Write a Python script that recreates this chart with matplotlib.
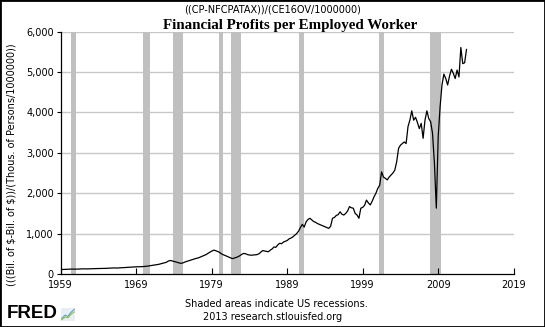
import numpy as np
import matplotlib.pyplot as plt
from matplotlib.patches import Rectangle

# quarterly-ish observations, decimal year -> value
years = [
    1959.0, 1959.5, 1960.0, 1960.5, 1961.0, 1961.5, 1962.0, 1962.5, 1963.0, 1963.5,
    1964.0, 1964.5, 1965.0, 1965.5, 1966.0, 1966.5, 1967.0, 1967.5, 1968.0, 1968.5,
    1969.0, 1969.5, 1970.0, 1970.5, 1971.0, 1971.5, 1972.0, 1972.5, 1973.0, 1973.25,
    1973.5, 1973.75, 1974.0, 1974.25, 1974.5, 1974.75, 1975.0, 1975.25, 1975.5, 1975.75,
    1976.0, 1976.25, 1976.5, 1976.75, 1977.0, 1977.25, 1977.5, 1977.75, 1978.0, 1978.25,
    1978.5, 1978.75, 1979.0, 1979.25, 1979.5, 1979.75, 1980.0, 1980.25, 1980.5, 1980.75,
    1981.0, 1981.25, 1981.5, 1981.75, 1982.0, 1982.25, 1982.5, 1982.75, 1983.0, 1983.25,
    1983.5, 1983.75, 1984.0, 1984.25, 1984.5, 1984.75, 1985.0, 1985.25, 1985.5, 1985.75,
    1986.0, 1986.25, 1986.5, 1986.75, 1987.0, 1987.25, 1987.5, 1987.75, 1988.0, 1988.25,
    1988.5, 1988.75, 1989.0, 1989.25, 1989.5, 1989.75, 1990.0, 1990.25, 1990.5, 1990.75,
    1991.0, 1991.25, 1991.5, 1991.75, 1992.0, 1992.25, 1992.5, 1992.75, 1993.0, 1993.25,
    1993.5, 1993.75, 1994.0, 1994.25, 1994.5, 1994.75, 1995.0, 1995.25, 1995.5, 1995.75,
    1996.0, 1996.25, 1996.5, 1996.75, 1997.0, 1997.25, 1997.5, 1997.75, 1998.0, 1998.25,
    1998.5, 1998.75, 1999.0, 1999.25, 1999.5, 1999.75, 2000.0, 2000.25, 2000.5, 2000.75,
    2001.0, 2001.25, 2001.5, 2001.75, 2002.0, 2002.25, 2002.5, 2002.75, 2003.0, 2003.25,
    2003.5, 2003.75, 2004.0, 2004.25, 2004.5, 2004.75, 2005.0, 2005.25, 2005.5, 2005.75,
    2006.0, 2006.25, 2006.5, 2006.75, 2007.0, 2007.25, 2007.5, 2007.75, 2008.0, 2008.25,
    2008.5, 2008.75, 2009.0, 2009.25, 2009.5, 2009.75, 2010.0, 2010.25, 2010.5, 2010.75,
    2011.0, 2011.25, 2011.5, 2011.75, 2012.0, 2012.25, 2012.5, 2012.75,
]
values = [
    110, 115, 118, 122, 120, 125, 128, 126, 130, 133,
    135, 138, 140, 145, 150, 148, 155, 160, 165, 172,
    178, 180, 185, 195, 210, 225, 240, 265, 290, 320,
    335, 325, 310, 300, 285, 270, 265, 280, 300, 315,
    330, 345, 360, 375, 390, 400, 420, 440, 460, 480,
    510, 540, 565, 590, 580, 560, 540, 505, 480, 460,
    440, 420, 400, 380, 395, 410, 430, 455, 490, 510,
    500, 480, 470, 465, 470, 475, 480, 500, 540, 580,
    570, 560, 550, 590, 620, 670, 660, 720, 760, 750,
    790, 810, 830, 870, 890, 920, 960, 1000, 1060, 1150,
    1230, 1160, 1290, 1350, 1380, 1340, 1300, 1280, 1250, 1230,
    1210, 1190, 1170, 1150, 1130, 1180, 1380, 1400, 1450, 1470,
    1540, 1480, 1460, 1500, 1560, 1670, 1640, 1630, 1500, 1460,
    1380, 1630, 1650, 1700, 1830, 1760, 1710, 1800, 1910, 2000,
    2120, 2200, 2530, 2400, 2370, 2330, 2400, 2450, 2500, 2570,
    2780, 3110, 3190, 3230, 3270, 3230, 3650, 3810, 4040, 3810,
    3880, 3750, 3600, 3730, 3360, 3810, 4040, 3850, 3770, 3480,
    2740, 1630, 3400, 4140, 4680, 4950, 4840, 4680, 4900, 5070,
    4970, 4840, 5050, 4880, 5610, 5210, 5230, 5560,
]

# NBER recessions (start, end) in decimal years
rec_start = [1960.33, 1969.92, 1973.83, 1980.0, 1981.5, 1990.5, 2001.17, 2007.92]
rec_end = [1961.08, 1970.83, 1975.17, 1980.5, 1982.83, 1991.17, 2001.83, 2009.42]

xticks = [1959, 1969, 1979, 1989, 1999, 2009, 2019]
yticks = [0, 1000, 2000, 3000, 4000, 5000, 6000]

W, H = 545, 327
fig = plt.figure(figsize=(W / 100, H / 100), dpi=100)
ax = fig.add_axes([60.7 / W, 1 - 274 / H, 453 / W, 242.3 / H])

for s, e in zip(rec_start, rec_end):
    ax.axvspan(s, e, color="#c0c0c0", lw=0, zorder=1)

for y in yticks[1:]:
    ax.axhline(y, color="#c8c8c8", lw=1.0, zorder=0)

ax.plot(years, values, color="black", lw=0.9, zorder=3)

ax.set_xlim(1959, 2019)
ax.set_ylim(0, 6000)
ax.set_xticks(xticks)
ax.set_yticks(yticks)
ax.set_yticklabels([f"{v:,}" for v in yticks])
ax.tick_params(axis="x", direction="in", length=4, width=0.8, pad=4, labelsize=7)
ax.tick_params(axis="y", direction="out", length=3, width=0.8, pad=2, labelsize=7)
for sp in ["top", "right"]:
    ax.spines[sp].set_visible(False)
for sp in ["left", "bottom"]:
    ax.spines[sp].set_linewidth(0.9)

ax.set_ylabel(r"(((Bil. of \$-Bil. of \$))/(Thous. of Persons/1000000))", fontsize=7.0)
ax.yaxis.set_label_coords(-44 / 453, 0.45)

fig.text(273 / W, 1 - 10 / H, "((CP-NFCPATAX))/(CE16OV/1000000)",
         ha="center", va="center", fontsize=7)
fig.text(290 / W, 1 - 26 / H, "Financial Profits per Employed Worker",
         ha="center", va="center", fontsize=10.8, fontweight="bold",
         family="Liberation Serif")
fig.text(276 / W, 1 - 304 / H, "Shaded areas indicate US recessions.",
         ha="center", va="center", fontsize=7)
fig.text(273 / W, 1 - 317 / H, "2013 research.stlouisfed.org",
         ha="center", va="center", fontsize=7)

# FRED wordmark with a tiny chart icon
fig.text(7 / W, 1 - 314 / H, "FRED", ha="left", va="center",
         fontsize=13.5, fontweight="bold", family="Liberation Sans")
icon = fig.add_axes([61 / W, 1 - 321 / H, 14 / W, 13 / H])
icon.set_xlim(0, 1)
icon.set_ylim(0, 1)
icon.axis("off")
icon.add_patch(Rectangle((0, 0), 1, 1, facecolor="#e8eef4", edgecolor="none"))
icon.plot([0.05, 0.3, 0.5, 0.7, 0.95], [0.2, 0.45, 0.35, 0.65, 0.9], color="#5b9bd5", lw=0.8)
icon.plot([0.05, 0.3, 0.5, 0.7, 0.95], [0.1, 0.3, 0.25, 0.5, 0.7], color="#8cc63f", lw=0.8)

# outer frame
fig.patches.append(Rectangle((0, 0), 1, 1, transform=fig.transFigure,
                             fill=False, edgecolor="black", lw=2.0))

fig.savefig("out.png", dpi=100)
